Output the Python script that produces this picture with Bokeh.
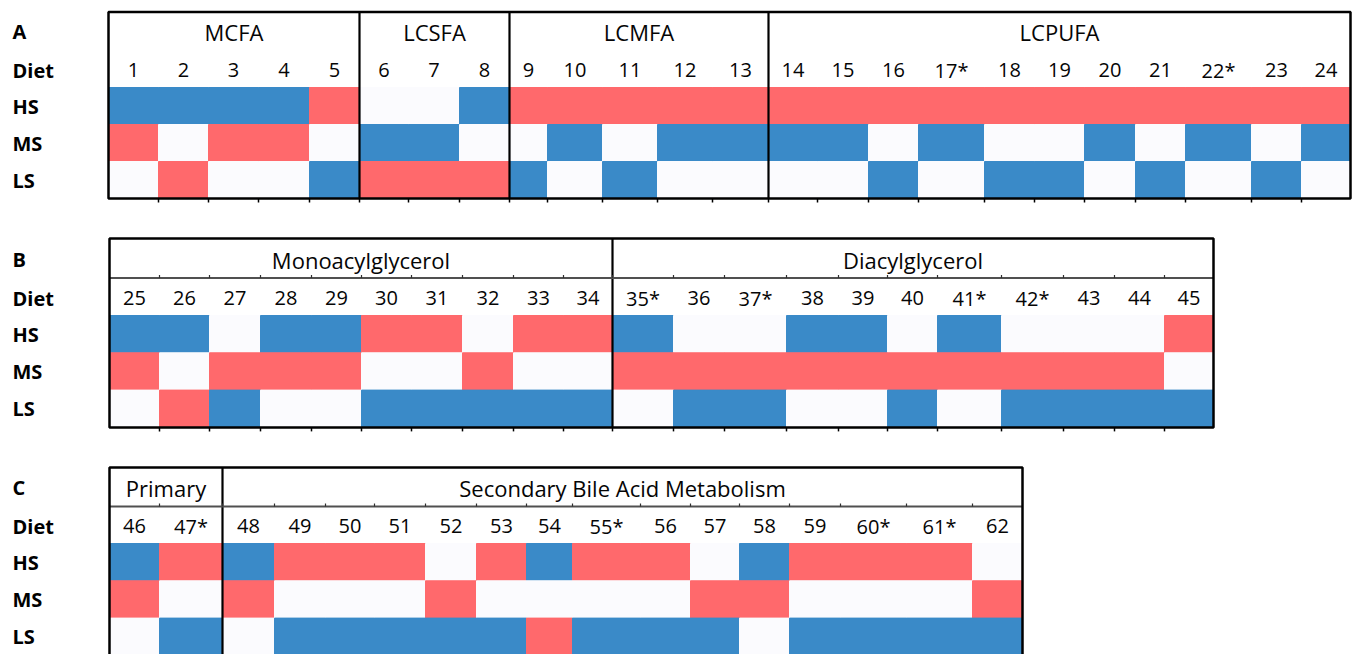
from bokeh.plotting import figure
from bokeh.models import ColumnDataSource, Range1d
from bokeh.core.properties import value
from bokeh.embed import file_html
from bokeh.resources import INLINE

# ---------------- data ----------------
diet_rows = ["HS", "MS", "LS"]

# codes: 1 = blue, -1 = red, 0 = no change
a_labels = ["1", "2", "3", "4", "5", "6", "7", "8", "9", "10", "11", "12", "13",
            "14", "15", "16", "17*", "18", "19", "20", "21", "22*", "23", "24"]
a_groups = ["MCFA", "LCSFA", "LCMFA", "LCPUFA"]
a_group_sizes = [5, 3, 5, 11]
a_hs = [1, 1, 1, 1, -1, 0, 0, 1, -1, -1, -1, -1, -1,
        -1, -1, -1, -1, -1, -1, -1, -1, -1, -1, -1]
a_ms = [-1, 0, -1, -1, 0, 1, 1, 0, 0, 1, 0, 1, 1,
        1, 1, 0, 1, 0, 0, 1, 0, 1, 0, 1]
a_ls = [0, -1, 0, 0, 1, -1, -1, -1, 1, 0, 1, 0, 0,
        0, 0, 1, 0, 1, 1, 0, 1, 0, 1, 0]

b_labels = ["25", "26", "27", "28", "29", "30", "31", "32", "33", "34",
            "35*", "36", "37*", "38", "39", "40", "41*", "42*", "43", "44", "45"]
b_groups = ["Monoacylglycerol", "Diacylglycerol"]
b_group_sizes = [10, 11]
b_hs = [1, 1, 0, 1, 1, -1, -1, 0, -1, -1,
        1, 0, 0, 1, 1, 0, 1, 0, 0, 0, -1]
b_ms = [-1, 0, -1, -1, -1, 0, 0, -1, 0, 0,
        -1, -1, -1, -1, -1, -1, -1, -1, -1, -1, 0]
b_ls = [0, -1, 1, 0, 0, 1, 1, 1, 1, 1,
        0, 1, 1, 0, 0, 1, 0, 1, 1, 1, 1]

c_labels = ["46", "47*", "48", "49", "50", "51", "52", "53", "54", "55*",
            "56", "57", "58", "59", "60*", "61*", "62"]
c_groups = ["Primary", "Secondary Bile Acid Metabolism"]
c_group_sizes = [2, 15]
c_hs = [1, -1, 1, -1, -1, -1, 0, -1, 1, -1, -1, 0, 1, -1, -1, -1, 0]
c_ms = [-1, 0, -1, 0, 0, 0, -1, 0, 0, 0, 0, -1, -1, 0, 0, 0, -1]
c_ls = [0, 1, 0, 1, 1, 1, 1, 1, -1, 1, 1, 1, 0, 1, 1, 1, 1]

# ---------------- layout (pixels) ----------------
panels = [
    dict(name="A", labels=a_labels, groups=a_groups, sizes=a_group_sizes,
         vals=[a_hs, a_ms, a_ls], left=108, top=11.5, group_y=31, num_y=69.5,
         data_top=87, row_h=37.0, divider=None,
         widths=[50, 50, 50, 51, 50, 49, 51, 50, 38, 55, 55, 55, 56,
                 49, 51, 50, 66, 50, 50, 51, 50, 66, 50, 49]),
    dict(name="B", labels=b_labels, groups=b_groups, sizes=b_group_sizes,
         vals=[b_hs, b_ms, b_ls], left=109, top=238, group_y=259, num_y=297.5,
         data_top=315, row_h=37.3, divider=277.5,
         widths=[50, 50, 51, 51, 50, 50, 51, 51, 50, 49,
                 61, 51, 62, 52, 49, 50, 64, 62, 51, 50, 49]),
    dict(name="C", labels=c_labels, groups=c_groups, sizes=c_group_sizes,
         vals=[c_hs, c_ms, c_ls], left=109, top=467, group_y=487, num_y=525.5,
         data_top=543, row_h=37.3, divider=506,
         widths=[50, 63, 52, 51, 49, 51, 51, 50, 46, 68, 50, 49, 50, 51, 66, 66, 50]),
]

COLORS = {1: "#3a8ac8", -1: "#ff696c", 0: "#fbfbfe"}
FONT = value("Open Sans")

W, H = 1354, 654
p = figure(width=W, height=H, output_backend="svg", toolbar_location=None,
           x_range=Range1d(0, W), y_range=Range1d(H, 0),
           min_border=0, x_axis_type=None, y_axis_type=None)
p.grid.visible = False
p.outline_line_color = None
p.background_fill_color = "white"
p.border_fill_color = "white"

for pn in panels:
    bounds = [pn["left"]]
    for w in pn["widths"]:
        bounds.append(bounds[-1] + w)
    n = len(pn["labels"])
    right = bounds[-1]
    bottom = pn["data_top"] + 3 * pn["row_h"]

    # cells
    L, R, T, B, C = [], [], [], [], []
    for r, row in enumerate(pn["vals"]):
        for i, v in enumerate(row):
            L.append(bounds[i]); R.append(bounds[i + 1])
            T.append(pn["data_top"] + r * pn["row_h"])
            B.append(pn["data_top"] + (r + 1) * pn["row_h"])
            C.append(COLORS[v])
    p.quad(left="left", right="right", top="top", bottom="bottom", fill_color="color",
           line_color="color", line_width=1,
           source=ColumnDataSource(dict(left=L, right=R, top=T, bottom=B, color=C)))

    # group dividers
    gb = [0]
    for s in pn["sizes"]:
        gb.append(gb[-1] + s)
    inner = [bounds[g] for g in gb[1:-1]]
    if inner:
        p.segment(x0=inner, x1=inner, y0=[pn["top"]] * len(inner), y1=[bottom] * len(inner),
                  line_color="black", line_width=2.2)

    # header divider with ticks
    if pn["divider"] is not None:
        d = pn["divider"]
        p.segment(x0=[pn["left"]], x1=[right], y0=[d], y1=[d], line_color="#505050", line_width=2)
        tx = bounds[1:-1]
        p.segment(x0=tx, x1=tx, y0=[d] * len(tx), y1=[d - 3] * len(tx),
                  line_color="#303030", line_width=1.2)

    # bottom ticks
    tx = bounds[1:-1]
    p.segment(x0=tx, x1=tx, y0=[bottom] * len(tx), y1=[bottom + 4] * len(tx),
              line_color="black", line_width=1.5)

    # outer frame
    p.quad(left=[pn["left"]], right=[right], top=[pn["top"]], bottom=[bottom],
           fill_color=None, line_color="black", line_width=2.5)

    # column labels
    cx = [(bounds[i] + bounds[i + 1]) / 2 for i in range(n)]
    p.text(x=cx, y=[pn["num_y"]] * n, text=pn["labels"], text_font=FONT,
           text_font_size="20px", text_align="center", text_baseline="middle",
           text_color="#050505")

    # group labels
    gx = [(bounds[gb[k]] + bounds[gb[k + 1]]) / 2 for k in range(len(pn["groups"]))]
    p.text(x=gx, y=[pn["group_y"]] * len(gx), text=pn["groups"], text_font=FONT,
           text_font_size="22px", text_align="center", text_baseline="middle",
           text_color="#050505")

    # row labels
    ly = [pn["group_y"], pn["num_y"]] + [pn["data_top"] + (r + 0.5) * pn["row_h"] for r in range(3)]
    lt = [pn["name"], "Diet"] + diet_rows
    p.text(x=[12] * 5, y=ly, text=lt, text_font=FONT, text_font_size="20px",
           text_font_style="bold", text_align="left", text_baseline="middle",
           text_color="black")

open("out.html", "w").write(file_html(p, INLINE))
